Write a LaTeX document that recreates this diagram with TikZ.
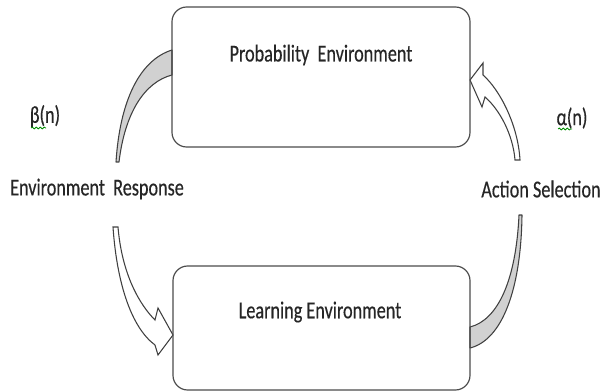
\documentclass[tikz,border=0pt]{standalone}
\usepackage{fontspec}
\setmainfont{Carlito}
\newfontfamily\labfont[FakeStretch=0.75,FakeBold=0.4]{Carlito}
\usetikzlibrary{decorations.pathmorphing}
\tikzset{
 box/.style={draw=black!70, line width=0.9pt, rounded corners=11pt, minimum width=223.5pt, minimum height=105pt, inner sep=0pt},
 lbl/.style={font=\labfont\fontsize{18.2}{21}\selectfont, text=black!85, inner sep=0pt},
 band/.style={draw=black!75, line width=0.8pt, fill=black!18, line join=round},
 blockarrow/.style={draw=black!75, line width=0.8pt, fill=white, line join=miter},
 squig/.style={draw=green!55!black, line width=0.6pt, decorate, decoration={snake, amplitude=0.7pt, segment length=3pt}}
}
\begin{document}
\begin{tikzpicture}[x=0.75pt,y=-0.75pt]
\useasboundingbox (0,0) rectangle (603,392);
% connectors
\draw[band] (116,162) .. controls (120,100) and (140,60) .. (172,50) -- (172,75) .. controls (145,82) and (125,112) .. (119,162) -- cycle;
\draw[band] (522,215) .. controls (521,290) and (502,340) .. (470,348) -- (470,327) .. controls (498,320) and (516,280) .. (519,215) -- cycle;
\draw[blockarrow] (118,227) .. controls (122,275) and (140,305) .. (155,320) -- (158,308) -- (173,335) -- (158,355) -- (155,345) .. controls (132,328) and (117,285) .. (113,227) -- cycle;
\draw[blockarrow] (520,160) .. controls (518,125) and (500,90) .. (483,75) -- (483,63) -- (470,80) -- (482,107) -- (485,97) .. controls (500,110) and (513,135) .. (515,160) -- cycle;
% boxes
\node[box] (prob) at (321,77) {};
\node[box, minimum width=222.75pt, minimum height=93pt] (learn) at (321.5,328) {};
% texts
\node[lbl] (probt) at (321,55) {Probability\ \ Environment};
\node[lbl] (learnt) at (320,312) {Learning Environment};
\node[lbl] (beta) at (45,116) {β(n)};
\node[lbl] (alpha) at (572,118) {α(n)};
\node[lbl] (envr) at (97,189) {Environment\ \ Response};
\node[lbl] (acts) at (541,189) {Action Selection};
\draw[squig] (31,128) -- (46,128);
\draw[squig] (558,129) -- (572,129);
\end{tikzpicture}
\end{document}
